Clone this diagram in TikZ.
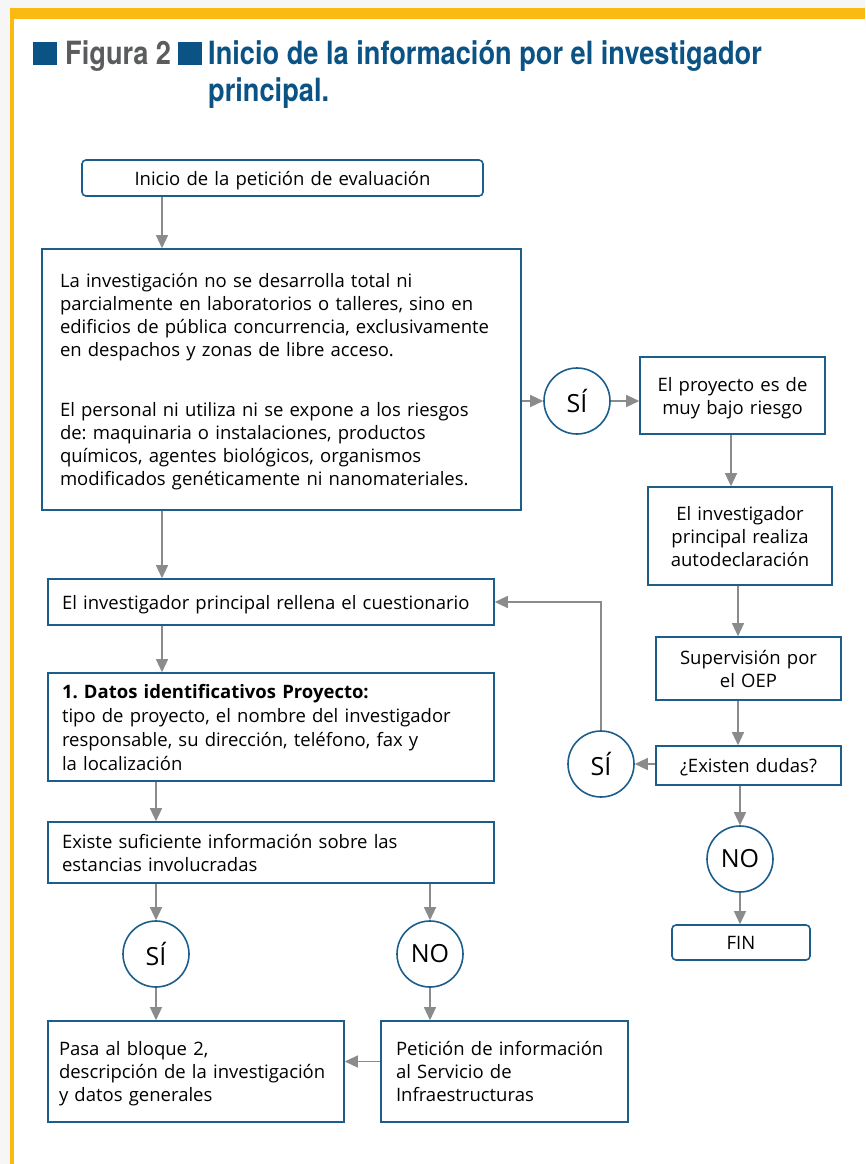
\documentclass[tikz,border=0pt]{standalone}
\usepackage{fontspec}
\setmainfont{Open Sans}
\newfontfamily\titlefont[FakeStretch=0.85]{TeX Gyre Heros}
\usetikzlibrary{arrows.meta}
\frenchspacing
\hyphenpenalty=10000

\definecolor{boxblue}{HTML}{1B5E8C}
\definecolor{titleblue}{HTML}{0B5385}
\definecolor{arrowgray}{HTML}{8A8B8D}
\definecolor{figgray}{HTML}{5B5C5E}
\definecolor{frameyellow}{HTML}{FBBA12}

\begin{document}
\begin{tikzpicture}[x=1pt,y=-1pt,
  box/.style={draw=boxblue, line width=1.6pt, fill=white, inner xsep=14pt, inner ysep=0pt,
    align=left, font=\fontsize{18.5}{23}\selectfont,
    execute at begin node={\rule{0pt}{19pt}}, execute at end node={\rule[-5pt]{0pt}{5pt}}},
  cbox/.style={box, align=center},
  choice/.style={circle, draw=boxblue, line width=1.6pt, fill=white, minimum size=66pt,
    inner sep=0pt, font=\fontsize{25}{30}\selectfont},
  arr/.style={draw=arrowgray, line width=1.3pt, -{Triangle[length=13pt,width=12pt]}},
  titletext/.style={anchor=base west, inner sep=0pt, font=\titlefont\bfseries\fontsize{32}{36}\selectfont}]
%\draw [lightgray, ultra thin] (0,0) grid [step=50] (865,1164);
\useasboundingbox (0,0) rectangle (865,1164);

% frame
\fill [gray!7] (0,0) rectangle (865,8);
\fill [gray!7] (0,0) rectangle (10,1164);
\fill [frameyellow] (10,8) rectangle (865,19);
\fill [frameyellow] (10,8) rectangle (14,1164);

% title
\fill [titleblue] (33,42) rectangle (57,65);
\node [titletext, text=figgray] (fig) at (65,65) {Figura 2};
\fill [titleblue] (178,42) rectangle (202,65);
\node [titletext, text=titleblue] (titleA) at (208,65) {Inicio de la información por el investigador};
\node [titletext, text=titleblue] (titleB) at (208,101) {principal.};

% left column
\node [cbox, rounded corners=4pt, text width=373pt, minimum height=36pt] (start) at (282.5,178)
  {Inicio de la petición de evaluación};
\node [box, text width=443pt, inner xsep=18pt, minimum height=261pt] (big) at (281.5,379.5)
  {La investigación no se desarrolla total ni\\
   parcialmente en laboratorios o talleres, sino en\\
   edificios de pública concurrencia, exclusivamente\\
   en despachos y zonas de libre acceso.\\[37pt]
   El personal ni utiliza ni se expone a los riesgos\\
   de: maquinaria o instalaciones, productos\\
   químicos, agentes biológicos, organismos\\
   modificados genéticamente ni nanomateriales.};
\node [box, text width=418pt, minimum height=46pt] (cuest) at (271,602)
  {El investigador principal rellena el cuestionario};
\node [box, text width=418pt, minimum height=108pt, font=\fontsize{18.5}{24}\selectfont] (datos) at (271,727)
  {\textbf{1. Datos identificativos Proyecto:}\\
   tipo de proyecto, el nombre del investigador\\
   responsable, su dirección, teléfono, fax y\\
   la localización};
\node [box, text width=418pt, minimum height=61pt] (existe) at (271,852.5)
  {Existe suficiente información sobre las\\
   estancias involucradas};
\node [choice] (si3) at (156,954) {SÍ};
\node [choice] (no2) at (430,954) {NO};
\node [box, text width=274pt, inner xsep=11pt, minimum height=101pt] (pasa) at (196,1071.5)
  {Pasa al bloque 2,\\
   descripción de la investigación\\
   y datos generales};
\node [box, text width=217pt, inner xsep=15pt, minimum height=101pt] (peticion) at (504.5,1071.5)
  {Petición de información\\
   al Servicio de\\
   Infraestructuras};

% right column
\node [choice] (si1) at (577,401) {SÍ};
\node [cbox, text width=157pt, minimum height=77pt] (bajo) at (732.5,395.5)
  {El proyecto es de\\ muy bajo riesgo};
\node [cbox, text width=156pt, minimum height=98pt] (auto) at (740,536)
  {El investigador\\ principal realiza\\ autodeclaración};
\node [cbox, text width=157pt, minimum height=63pt] (superv) at (748.5,668.5)
  {Supervisión por\\ el OEP};
\node [cbox, text width=157pt, minimum height=39pt] (dudas) at (748.5,765.5)
  {¿Existen dudas?};
\node [choice] (si2) at (601,764) {SÍ};
\node [choice] (no1) at (740,859) {NO};
\node [cbox, rounded corners=4pt, text width=110pt, minimum height=35pt] (fin) at (741,942.5) {FIN};

\coordinate (colA) at (162,0);
\coordinate (colB) at (156,0);
\coordinate (colC) at (731,0);
\coordinate (colD) at (738,0);

\draw [arr] (start.south -| colA) -- (big.north -| colA);
\draw [arr] (big.south -| colA) -- (cuest.north -| colA);
\draw [arr] (cuest.south -| colA) -- (datos.north -| colA);
\draw [arr] (datos.south -| colB) -- (existe.north -| colB);
\draw [arr] (existe.south -| si3) -- (si3.north);
\draw [arr] (existe.south -| no2) -- (no2.north);
\draw [arr] (si3.south) -- (pasa.north -| si3);
\draw [arr] (no2.south) -- (peticion.north -| no2);
\draw [arr] ([yshift=10pt]peticion.west) -- ([yshift=10pt]pasa.east);

\draw [arr] (big.east |- si1) -- (si1.west);
\draw [arr] (si1.east) -- (si1.east -| bajo.west);
\draw [arr] (bajo.south -| colC) -- (auto.north -| colC);
\draw [arr] (auto.south -| colD) -- (superv.north -| colD);
\draw [arr] (superv.south -| colD) -- (dudas.north -| colD);
\draw [arr] (dudas.west |- si2) -- (si2.east);
\draw [arr] (si2.north) |- (cuest.east);
\draw [arr] (dudas.south -| no1) -- (no1.north);
\draw [arr] (no1.south) -- (fin.north -| no1);
\end{tikzpicture}
\end{document}
